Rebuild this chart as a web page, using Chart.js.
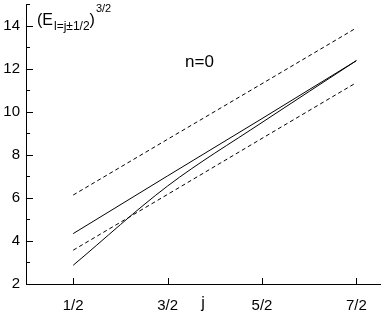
<!DOCTYPE html>
<html>
<head>
<meta charset="utf-8">
<script src="https://cdn.jsdelivr.net/npm/chart.js@4"></script>
<style>
  html, body { margin: 0; padding: 0; background: #fff; }
  #wrap { width: 382px; height: 317px; }
</style>
</head>
<body>
<div id="wrap"><canvas id="energyChart" width="382" height="317"></canvas></div>
<script>
// j values and their labels
const jValues = [0.5, 1.5, 2.5, 3.5];
const jLabels = ['1/2', '3/2', '5/2', '7/2'];

// (E)^{3/2}
const upperDashed = [6.13, 8.72, 11.30, 13.89];
const upperSolid = [4.34, 7.02, 9.68, 12.37];
const lowerSolid = [2.87, 6.55, 9.50, 12.37];
const lowerDashed = [3.57, 6.16, 8.76, 11.35];

const yTicks = [2, 4, 6, 8, 10, 12, 14];
const yMinorTicks = [3, 5, 7, 9, 11, 13, 15];

const FONT = '"Liberation Sans", Arial, Helvetica, sans-serif';

function toPoints(ys) {
    return jValues.map((x, i) => ({ x: x, y: ys[i] }));
}

function lineSet(ys, dashed, smooth) {
    return {
        data: toPoints(ys),
        borderColor: '#000',
        borderWidth: 1,
        borderDash: dashed ? [4, 3] : [],
        pointRadius: 0,
        fill: false,
        tension: 0,
        cubicInterpolationMode: smooth ? 'monotone' : 'default'
    };
}

// inward tick marks + free text
const decorations = {
    id: 'decorations',
    afterDraw(chart) {
        const ctx = chart.ctx;
        const xs = chart.scales.x;
        const ys = chart.scales.y;
        const left = chart.chartArea.left;
        const bottom = chart.chartArea.bottom;
        ctx.save();
        ctx.strokeStyle = '#000';
        ctx.lineWidth = 1;
        ctx.beginPath();
        yTicks.forEach(v => {
            const y = Math.round(ys.getPixelForValue(v)) + 0.5;
            ctx.moveTo(left, y); ctx.lineTo(left + 7, y);
        });
        yMinorTicks.forEach(v => {
            const y = Math.round(ys.getPixelForValue(v)) + 0.5;
            ctx.moveTo(left, y); ctx.lineTo(left + 4, y);
        });
        jValues.forEach(v => {
            const x = Math.round(xs.getPixelForValue(v)) + 0.5;
            ctx.moveTo(x, bottom); ctx.lineTo(x, bottom - 6);
        });
        ctx.stroke();

        ctx.fillStyle = '#000';
        ctx.textBaseline = 'alphabetic';
        ctx.textAlign = 'left';

        // (E_{l=j±1/2})^{3/2}
        let x = 37;
        ctx.font = '16px ' + FONT;
        ctx.fillText('(E', x, 25);
        x += ctx.measureText('(E').width + 1;
        ctx.font = '12px ' + FONT;
        ctx.fillText('l=j\u00b11/2', x, 30);
        x += ctx.measureText('l=j\u00b11/2').width;
        ctx.font = '16px ' + FONT;
        ctx.fillText(')', x, 25);
        x += ctx.measureText(')').width + 1;
        ctx.font = '11px ' + FONT;
        ctx.fillText('3/2', x, 12);

        ctx.font = '17px ' + FONT;
        ctx.fillText('n=0', 185, 67);

        ctx.font = '16px ' + FONT;
        ctx.textAlign = 'center';
        ctx.fillText('j', 203, 308);
        ctx.restore();
    }
};

new Chart(document.getElementById('energyChart'), {
    type: 'line',
    data: {
        datasets: [
            lineSet(upperDashed, true, false),
            lineSet(upperSolid, false, false),
            lineSet(lowerSolid, false, true),
            lineSet(lowerDashed, true, false)
        ]
    },
    options: {
        responsive: false,
        animation: false,
        layout: { padding: { top: 4, right: 2, left: 0, bottom: 0 } },
        plugins: {
            legend: { display: false },
            tooltip: { enabled: false }
        },
        scales: {
            x: {
                type: 'linear',
                min: 0,
                max: 3.75,
                afterBuildTicks: s => { s.ticks = jValues.map(v => ({ value: v })); },
                afterFit: s => { s.height = 33; },
                grid: { drawOnChartArea: false, drawTicks: false },
                border: { display: true, color: '#000', width: 1 },
                ticks: {
                    color: '#000',
                    padding: 13,
                    maxRotation: 0,
                    autoSkip: false,
                    font: { family: FONT, size: 15 },
                    callback: v => jLabels[jValues.indexOf(v)]
                }
            },
            y: {
                min: 2,
                max: 15,
                afterBuildTicks: s => { s.ticks = yTicks.map(v => ({ value: v })); },
                afterFit: s => { s.width = 26; s.paddingTop = 0; s.paddingBottom = 0; },
                grid: { drawOnChartArea: false, drawTicks: false },
                border: { display: true, color: '#000', width: 1 },
                ticks: {
                    color: '#000',
                    padding: 6,
                    font: { family: FONT, size: 15 }
                }
            }
        }
    },
    plugins: [decorations]
});
</script>
</body>
</html>
